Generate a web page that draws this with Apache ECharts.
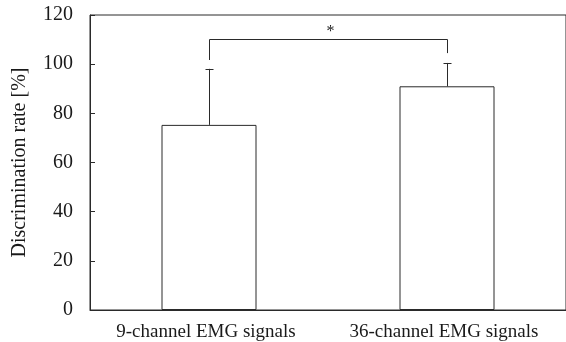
<!DOCTYPE html>
<html>
<head>
<meta charset="utf-8">
<script src="https://cdn.jsdelivr.net/npm/echarts@6/dist/echarts.min.js"></script>
<style>html,body{margin:0;padding:0;background:#fff}#c{width:566px;height:342px}</style>
</head>
<body>
<div id="c"></div>
<script>
var categories = ['9-channel EMG signals', '36-channel EMG signals'];
var meanValues = [75.3, 91.0];
var errorTops = [98.1, 100.5];
var bracketLevel = 110.2;
var bracketLegEnds = [101.7, 104.5];
var significanceLabel = '*';
var yTicks = [0, 20, 40, 60, 80, 100, 120];

var FONT = 'Liberation Serif';
var LINE = '#2a2a2a';
var TEXT = '#1a1a1a';

var chart = echarts.init(document.getElementById('c'), null, {renderer: 'canvas'});
chart.setOption({
  animation: false,
  backgroundColor: '#fff',
  grid: {left: 90, top: 15, right: -2, bottom: 30, show: true, borderColor: LINE, borderWidth: 1},
  xAxis: {
    type: 'category',
    data: categories,
    axisLine: {lineStyle: {color: LINE, width: 1}},
    axisTick: {show: false},
    axisLabel: {interval: 0, color: TEXT, fontFamily: FONT, fontSize: 19, margin: 13, padding: [0, 6, 0, 0]}
  },
  yAxis: {
    type: 'value',
    min: yTicks[0],
    max: yTicks[yTicks.length - 1],
    interval: 20,
    name: 'Discrimination rate [%]',
    nameLocation: 'middle',
    nameGap: 60,
    nameTextStyle: {color: TEXT, fontFamily: FONT, fontSize: 20},
    axisLine: {show: true, lineStyle: {color: LINE, width: 1}},
    axisTick: {show: true, inside: true, length: 5, lineStyle: {color: LINE}},
    axisLabel: {color: TEXT, fontFamily: FONT, fontSize: 20, margin: 17},
    splitLine: {show: false}
  },
  series: [
    {
      type: 'bar',
      data: meanValues,
      barWidth: 95,
      itemStyle: {color: '#fff', borderColor: LINE, borderWidth: 1},
      z: 2
    },
    {
      type: 'custom',
      data: meanValues.map(function (m, i) { return [i, m, errorTops[i]]; }),
      renderItem: function (params, api) {
        var base = api.coord([api.value(0), api.value(1)]);
        var top = api.coord([api.value(0), api.value(2)]);
        var x = Math.round(base[0]) + 0.5;
        return {
          type: 'group',
          children: [
            {type: 'line', shape: {x1: x, y1: base[1], x2: x, y2: top[1]}, style: {stroke: LINE, lineWidth: 1}},
            {type: 'line', shape: {x1: x - 4, y1: Math.round(top[1]) + 0.5, x2: x + 4, y2: Math.round(top[1]) + 0.5}, style: {stroke: LINE, lineWidth: 1}}
          ]
        };
      },
      z: 3
    },
    {
      type: 'custom',
      data: [[0, 1, bracketLevel, bracketLegEnds[0], bracketLegEnds[1]]],
      renderItem: function (params, api) {
        var l = api.coord([api.value(0), api.value(2)]);
        var r = api.coord([api.value(1), api.value(2)]);
        var lEnd = api.coord([api.value(0), api.value(3)]);
        var rEnd = api.coord([api.value(1), api.value(4)]);
        var y = Math.round(l[1]) + 0.5;
        var xl = Math.round(l[0]) + 0.5, xr = Math.round(r[0]) + 0.5;
        return {
          type: 'group',
          children: [
            {type: 'polyline', shape: {points: [[xl, lEnd[1]], [xl, y], [xr, y], [xr, rEnd[1]]]}, style: {stroke: LINE, lineWidth: 1, fill: null}},
            {type: 'text', style: {text: significanceLabel, x: (xl + xr) / 2 + 2, y: y - 8, align: 'center', verticalAlign: 'middle', fill: TEXT, font: '16px "Liberation Serif"'}}
          ]
        };
      },
      z: 3
    }
  ]
});
</script>
</body>
</html>
